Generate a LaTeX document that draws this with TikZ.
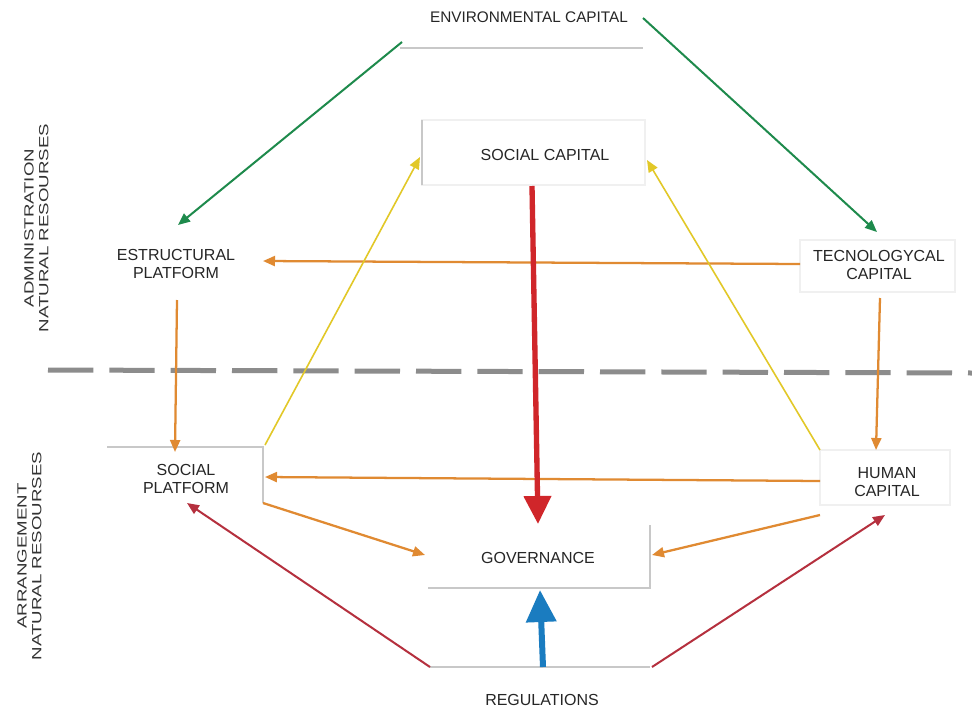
\documentclass[tikz,border=0pt]{standalone}
\usepackage{fontspec}
\setmainfont{Liberation Sans}
\usetikzlibrary{arrows.meta,calc}

\definecolor{cgreen}{HTML}{1E8A4C}
\definecolor{corange}{HTML}{E08A32}
\definecolor{cyellow}{HTML}{E2C828}
\definecolor{cred}{HTML}{D0262A}
\definecolor{cdred}{HTML}{B5303E}
\definecolor{cblue}{HTML}{1A7CC0}
\definecolor{cdash}{HTML}{8C8C8C}
\definecolor{cframe}{HTML}{C8C8C8}
\definecolor{cfaint}{HTML}{F0F0F0}

\begin{document}
\begin{tikzpicture}[x=0.75pt,y=-0.75pt,
  lbl/.style={font=\fontsize{12}{13.5}\selectfont, align=center, inner sep=0pt, text=black!85},
  side/.style={rotate=90, font=\fontsize{10}{11}\selectfont, inner sep=0pt, text=black!80},
  frame/.style={draw=cframe, line width=0.9pt},
  faint/.style={draw=cfaint, line width=0.8pt},
  tipS/.style={-{Triangle[length=9pt,width=7.5pt]}},
  linkG/.style={cgreen, line width=1.5pt, tipS},
  linkO/.style={corange, line width=1.7pt, tipS},
  linkY/.style={cyellow, line width=1.2pt, tipS},
  linkR/.style={cdred, line width=1.5pt, tipS},
  bigR/.style={cred, line width=4pt, -{Triangle[length=21pt,width=20pt]}},
  bigB/.style={cblue, line width=4.5pt, -{Triangle[length=24pt,width=22pt]}}
]
\useasboundingbox (0,0) rectangle (972,711);
\fill[white] (0,0) rectangle (972,711);

% ---- labels of the boxes ----
\node[lbl, font=\fontsize{11.5}{13}\selectfont] (env) at (529,17) {ENVIRONMENTAL CAPITAL};
\node[lbl] (soc)   at (545,155) {SOCIAL CAPITAL};
\node[lbl] (estr)  at (176,264) {ESTRUCTURAL\\PLATFORM};
\node[lbl] (tec)   at (879,265) {TECNOLOGYCAL\\CAPITAL};
\node[lbl] (splat) at (186,479) {SOCIAL\\PLATFORM};
\node[lbl] (hum)   at (887,482) {HUMAN\\CAPITAL};
\node[lbl] (gov)   at (538,558) {GOVERNANCE};
\node[lbl] (reg)   at (542,700) {REGULATIONS};

% ---- side captions ----
\node[side] (adm) at (38,228) {\scalebox{1.4}[1]{\begin{tabular}{@{}c@{}}ADMINISTRATION\\NATURAL RESOURSES\end{tabular}}};
\node[side] (arr) at (31,556) {\scalebox{1.4}[1]{\begin{tabular}{@{}c@{}}ARRANGEMENT\\NATURAL RESOURSES\end{tabular}}};

% ---- box outlines (partly visible) ----
\draw[faint] ($(soc)+(-123,-35)$) rectangle ($(soc)+(100,30)$);
\draw[faint] ($(tec)+(-79,-25)$) rectangle ($(tec)+(76,27)$);
\draw[faint] ($(hum)+(-67,-32)$) rectangle ($(hum)+(63,23)$);
\draw[frame] ($(env)+(-129,31)$) -- ($(env)+(114,31)$);
\draw[frame] ($(soc)+(-123,-35)$) -- ($(soc)+(-123,30)$);
\draw[frame] ($(splat)+(-79,-32)$) -- ($(splat)+(77,-32)$) -- ($(splat)+(77,24)$);
\draw[frame] ($(gov)+(-110,30)$) -- ($(gov)+(112,30)$) -- ($(gov)+(112,-33)$);
\draw[frame] ($(reg)+(-112,-33)$) -- ($(reg)+(108,-33)$);

% ---- divider between the two levels ----
\draw[cdash, line width=3.75pt, dash pattern=on 34pt off 12pt] (48,370) -- (972,373);

% ---- environmental capital ----
\draw[linkG] ($(env)+(-127,25)$) -- ($(estr)+(2,-39)$);
\draw[linkG] ($(env)+(114,1)$) -- ($(tec)+(-2,-33)$);

% ---- orange flows ----
\draw[linkO] ($(tec)+(-79,-1)$) -- ($(estr)+(87,-3)$);
\draw[linkO] ($(estr)+(1,36)$) -- ($(splat)+(-11,-27)$);
\draw[linkO] ($(tec)+(1,33)$) -- ($(hum)+(-11,-32)$);
\draw[linkO] ($(hum)+(-67,-1)$) -- ($(splat)+(79,-2)$);
\draw[linkO] ($(splat)+(77,24)$) -- ($(gov)+(-113,-3)$);
\draw[linkO] ($(hum)+(-67,33)$) -- ($(gov)+(114,-3)$);

% ---- yellow flows ----
\draw[linkY] ($(splat)+(79,-34)$) -- ($(soc)+(-125,2)$);
\draw[linkY] ($(hum)+(-67,-32)$) -- ($(soc)+(102,5)$);

% ---- red flows ----
\draw[bigR] ($(soc)+(-13,31)$) -- ($(gov)+(0,-34)$);
\draw[linkR] ($(reg)+(-112,-33)$) -- ($(splat)+(1,24)$);
\draw[linkR] ($(reg)+(110,-33)$) -- ($(hum)+(-2,33)$);

% ---- regulations to governance ----
\draw[bigB] ($(reg)+(1,-33)$) -- ($(gov)+(2,32)$);
\end{tikzpicture}
\end{document}
